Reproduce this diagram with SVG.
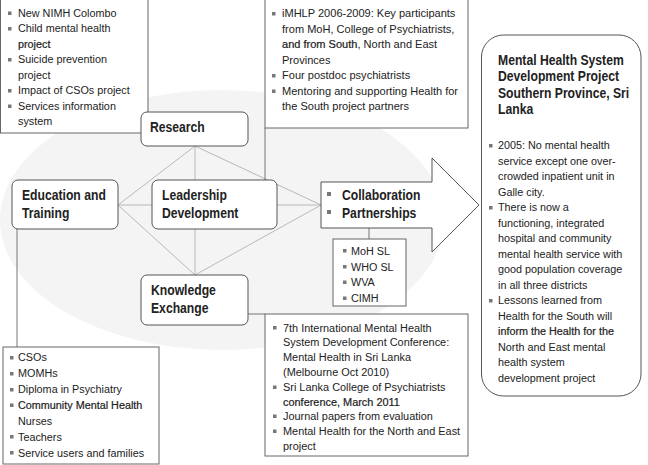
<svg xmlns="http://www.w3.org/2000/svg" width="648" height="465" viewBox="0 0 648 465">
<style>
.bg{fill:#f4f4f4}
.box{fill:#fff;stroke:#666;stroke-width:1}
.node{fill:#fff;stroke:#555;stroke-width:1}
.spoke{stroke:#aaa;stroke-width:0.8;fill:none}
.link{stroke:#777;stroke-width:1;fill:none}
.t{font-family:"Liberation Sans",Arial,sans-serif;font-size:11.5px;fill:#222}
.b{font-family:"Liberation Sans",Arial,sans-serif;font-size:14.5px;font-weight:bold;fill:#222}
.dk{stroke:#222;stroke-width:0.22}
.bl{fill:#777}
</style>
<rect width="648" height="465" fill="#fff"/>
<ellipse class="bg" cx="222" cy="220" rx="222" ry="130"/>

<g id="connectors">
  <line class="spoke" x1="195" y1="146" x2="118" y2="205"/>
  <line class="spoke" x1="195" y1="146" x2="195" y2="180"/>
  <line class="spoke" x1="195" y1="146" x2="321" y2="205"/>
  <line class="spoke" x1="195" y1="275" x2="118" y2="205"/>
  <line class="spoke" x1="195" y1="275" x2="195" y2="229"/>
  <line class="spoke" x1="195" y1="275" x2="321" y2="205"/>
  <line class="spoke" x1="118" y1="205" x2="152" y2="205"/>
  <line class="spoke" x1="277" y1="205" x2="321" y2="205"/>
  <line class="link" x1="265" y1="128" x2="265" y2="180"/>
  <line class="link" x1="17" y1="229" x2="17" y2="347"/>
  <line class="link" x1="248" y1="314" x2="265" y2="314"/>
  <line class="link" x1="369" y1="228" x2="369" y2="239"/>
</g>

<g id="research-notes">
  <rect class="box" x="0.5" y="-1" width="147.5" height="134"/>
  <rect class="bl" x="8" y="11.5" width="3.5" height="3.5"/>
  <rect class="bl" x="8" y="27" width="3.5" height="3.5"/>
  <rect class="bl" x="8" y="58" width="3.5" height="3.5"/>
  <rect class="bl" x="8" y="89" width="3.5" height="3.5"/>
  <rect class="bl" x="8" y="104.5" width="3.5" height="3.5"/>
  <g transform="translate(18,0) scale(0.94,1)" class="t">
    <text x="0" y="17">New NIMH Colombo</text>
    <text x="0" y="32.5">Child mental health</text>
    <text x="0" y="48" class="dk">project</text>
    <text x="0" y="63.5">Suicide prevention</text>
    <text x="0" y="79">project</text>
    <text x="0" y="94.5">Impact of CSOs project</text>
    <text x="0" y="110">Services information</text>
    <text x="0" y="125.5">system</text>
  </g>
</g>

<g id="leadership-notes">
  <rect class="box" x="265" y="-1" width="203" height="129"/>
  <rect class="bl" x="272" y="12" width="3.5" height="3.5"/>
  <rect class="bl" x="272" y="74" width="3.5" height="3.5"/>
  <rect class="bl" x="272" y="89.5" width="3.5" height="3.5"/>
  <g transform="translate(282,0) scale(0.96,1)" class="t">
    <text x="0" y="17.5">iMHLP 2006-2009: Key participants</text>
    <text x="0" y="33">from MoH, College of Psychiatrists,</text>
    <text x="0" y="48.5"><tspan class="dk">and from South</tspan>, North and East</text>
    <text x="0" y="64">Provinces</text>
    <text x="0" y="79.5">Four postdoc psychiatrists</text>
    <text x="0" y="95">Mentoring and supporting Health for</text>
    <text x="0" y="110.5">the South project partners</text>
  </g>
</g>

<g id="education-notes">
  <rect class="box" x="3" y="347" width="156" height="117"/>
  <rect class="bl" x="10" y="356" width="3.5" height="3.5"/>
  <rect class="bl" x="10" y="372" width="3.5" height="3.5"/>
  <rect class="bl" x="10" y="388" width="3.5" height="3.5"/>
  <rect class="bl" x="10" y="403.5" width="3.5" height="3.5"/>
  <rect class="bl" x="10" y="435" width="3.5" height="3.5"/>
  <rect class="bl" x="10" y="451" width="3.5" height="3.5"/>
  <g transform="translate(18,0) scale(0.94,1)" class="t">
    <text x="0" y="361.5">CSOs</text>
    <text x="0" y="377.5">MOMHs</text>
    <text x="0" y="393.3">Diploma in Psychiatry</text>
    <text x="0" y="409" class="dk">Community Mental Health</text>
    <text x="0" y="425">Nurses</text>
    <text x="0" y="440.6">Teachers</text>
    <text x="0" y="456.6">Service users and families</text>
  </g>
</g>

<g id="knowledge-notes">
  <rect class="box" x="265" y="314" width="203" height="142"/>
  <rect class="bl" x="273" y="326" width="3.5" height="3.5"/>
  <rect class="bl" x="273" y="385.5" width="3.5" height="3.5"/>
  <rect class="bl" x="273" y="414.5" width="3.5" height="3.5"/>
  <rect class="bl" x="273" y="429.5" width="3.5" height="3.5"/>
  <g transform="translate(283,0) scale(0.95,1)" class="t">
    <text x="0" y="331.6">7th International Mental Health</text>
    <text x="0" y="346.4">System Development Conference:</text>
    <text x="0" y="361">Mental Health in Sri Lanka</text>
    <text x="0" y="375.8">(Melbourne Oct 2010)</text>
    <text x="0" y="390.8">Sri Lanka College of Psychiatrists</text>
    <text x="0" y="405.6" class="dk">conference, March 2011</text>
    <text x="0" y="420.2">Journal papers from evaluation</text>
    <text x="0" y="435">Mental Health for the North and East</text>
    <text x="0" y="449.6">project</text>
  </g>
</g>

<g id="partners">
  <rect class="box" x="333" y="239" width="73" height="67"/>
  <rect class="bl" x="343" y="249" width="3.5" height="3.5"/>
  <rect class="bl" x="343" y="265" width="3.5" height="3.5"/>
  <rect class="bl" x="343" y="280.5" width="3.5" height="3.5"/>
  <rect class="bl" x="343" y="296.5" width="3.5" height="3.5"/>
  <g transform="translate(351,0) scale(0.94,1)" class="t">
    <text x="0" y="254.7">MoH SL</text>
    <text x="0" y="270.7">WHO SL</text>
    <text x="0" y="286.3">WVA</text>
    <text x="0" y="302">CIMH</text>
  </g>
</g>

<g id="research">
  <rect class="node" x="141" y="112" width="107" height="34" rx="6"/>
  <g transform="translate(150,0) scale(0.84,1)"><text class="b" x="0" y="132">Research</text></g>
</g>

<g id="education">
  <rect class="node" x="12" y="180" width="106" height="49" rx="6"/>
  <g transform="translate(22,0) scale(0.84,1)">
    <text class="b" x="0" y="200">Education and</text>
    <text class="b" x="0" y="218">Training</text>
  </g>
</g>

<g id="leadership">
  <rect class="node" x="152" y="180" width="125" height="49" rx="6"/>
  <g transform="translate(162,0) scale(0.84,1)">
    <text class="b" x="0" y="200">Leadership</text>
    <text class="b" x="0" y="218">Development</text>
  </g>
</g>

<g id="knowledge">
  <rect class="node" x="141" y="275" width="107" height="50" rx="6"/>
  <g transform="translate(151,0) scale(0.84,1)">
    <text class="b" x="0" y="295">Knowledge</text>
    <text class="b" x="0" y="313">Exchange</text>
  </g>
</g>

<g id="collaboration">
  <path class="node" d="M321,182 H432 V158 L479,205 L432,252 V228 H321 Z"/>
  <rect class="bl" x="327" y="192" width="4" height="4"/>
  <rect class="bl" x="327" y="210" width="4" height="4"/>
  <g transform="translate(342,0) scale(0.84,1)">
    <text class="b" x="0" y="200">Collaboration</text>
    <text class="b" x="0" y="218">Partnerships</text>
  </g>
</g>

<g id="outcome">
  <rect class="node" x="481.5" y="35" width="159.5" height="361" rx="22"/>
  <g transform="translate(498,0) scale(0.84,1)">
    <text class="b" x="0" y="65">Mental Health System</text>
    <text class="b" x="0" y="81.5">Development Project</text>
    <text class="b" x="0" y="98">Southern Province, Sri</text>
    <text class="b" x="0" y="114.5">Lanka</text>
  </g>
  <rect class="bl" x="489" y="144" width="3.5" height="3.5"/>
  <rect class="bl" x="489" y="206" width="3.5" height="3.5"/>
  <rect class="bl" x="489" y="299" width="3.5" height="3.5"/>
  <g transform="translate(498,0) scale(0.94,1)" class="t">
    <text x="0" y="149.5">2005: No mental health</text>
    <text x="0" y="165">service except one over-</text>
    <text x="0" y="180.5">crowded inpatient unit in</text>
    <text x="0" y="196">Galle city.</text>
    <text x="0" y="211.5">There is now a</text>
    <text x="0" y="227">functioning, integrated</text>
    <text x="0" y="242.5">hospital and  community</text>
    <text x="0" y="258">mental health service with</text>
    <text x="0" y="273.5">good population coverage</text>
    <text x="0" y="289">in all three districts</text>
    <text x="0" y="304.5">Lessons learned from</text>
    <text x="0" y="320">Health for the South will</text>
    <text x="0" y="335.5" class="dk">inform the Health for the</text>
    <text x="0" y="351">North and East mental</text>
    <text x="0" y="366.5">health system</text>
    <text x="0" y="382">development project</text>
  </g>
</g>
</svg>
